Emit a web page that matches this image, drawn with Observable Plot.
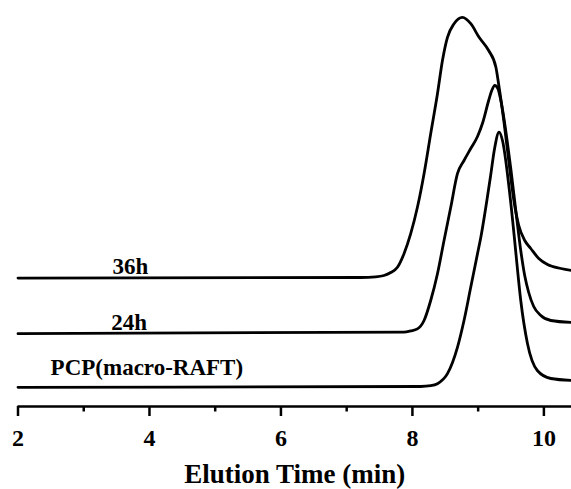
<!DOCTYPE html>
<html>
<head>
<meta charset="utf-8">
<script src="https://cdn.jsdelivr.net/npm/d3@7"></script>
<script src="https://cdn.jsdelivr.net/npm/@observablehq/plot@0.6"></script>
<style>
  html, body { margin: 0; padding: 0; background: white; }
</style>
</head>
<body>
<div id="chart"></div>
<script>
// Elution time (min) and offset detector signal (arbitrary units)
const t36 = [2, 7.213, 7.44, 7.568, 7.67, 7.772, 7.872, 7.974, 8.076, 8.177, 8.278, 8.381, 8.457, 8.533, 8.633, 8.761, 8.888, 9.014, 9.16, 9.27, 9.31, 9.39, 9.465, 9.543, 9.618, 9.709, 9.80, 9.922, 10.055, 10.26, 10.42];
const v36 = [32.1, 32.25, 32.4, 32.75, 33.5, 34.8, 38.2, 43.2, 49.8, 58.2, 68.2, 78.2, 86.5, 92.3, 95.7, 97.3, 95.7, 92.3, 89, 84.8, 80.75, 71.5, 61.5, 51.5, 45.25, 41.5, 39.5, 37, 35.5, 34.5, 34];

const t24 = [2, 7.872, 7.974, 8.076, 8.177, 8.278, 8.381, 8.481, 8.583, 8.685, 8.785, 8.887, 8.99, 9.07, 9.16, 9.207, 9.253, 9.30, 9.345, 9.50, 9.5725, 9.648, 9.708, 9.769, 9.845, 9.953, 10.106, 10.425];
const v24 = [18.2, 18.6, 18.9, 19.4, 21.5, 26.5, 33.2, 41.5, 49.8, 58.2, 61.5, 64.5, 67.5, 71, 76.5, 79, 80.25, 79.5, 76.5, 59, 49, 39, 32.75, 28.5, 25, 22.75, 21.5, 21];

const tPCP = [2, 8.126, 8.28, 8.381, 8.533, 8.685, 8.785, 8.887, 8.99, 9.04, 9.14, 9.19, 9.25, 9.318, 9.37, 9.47, 9.54, 9.57, 9.648, 9.75, 9.90, 10.106, 10.425];
const vPCP = [4.8, 5, 5.2, 5.7, 8.2, 14.8, 21.5, 29.8, 38.2, 42.25, 52.3, 57.75, 64.5, 68.6, 66.5, 54.75, 44, 39, 26.5, 15.75, 9, 7, 6.5];

const seriesNames = ["36h", "24h", "PCP(macro-RAFT)"];
const labelTime = [3.71, 3.69, 3.96];
const labelLevel = [35, 20.9, 9.6];

const majorTicks = [2, 4, 6, 8, 10];
const minorTicks = [3, 5, 7, 9];
const xTitle = "Elution Time (min)";

const rows = [];
[[t36, v36], [t24, v24], [tPCP, vPCP]].forEach(([ts, vs], k) => {
  ts.forEach((t, i) => rows.push({series: seriesNames[k], t, v: vs[i]}));
});
const labelRows = seriesNames.map((s, i) => ({text: s, t: labelTime[i], v: labelLevel[i]}));

const serif = "'Liberation Serif', 'Times New Roman', Times, serif";

const chart = Plot.plot({
  width: 571,
  height: 489,
  marginLeft: 17.5,
  marginRight: 0,
  marginTop: 6,
  marginBottom: 83,
  x: {domain: [2, 10.42]},
  y: {domain: [0, 100], axis: null},
  style: {fontFamily: serif, fontWeight: "bold", fontSize: "24px", background: "white", color: "black", overflow: "visible"},
  marks: [
    Plot.ruleY([0], {stroke: "black", strokeWidth: 2.5}),
    Plot.axisX(majorTicks, {tickSize: 10, tickPadding: 12, strokeWidth: 2.5, fontSize: 24, fontWeight: "bold", fontFamily: serif,
      label: null}),
    Plot.axisX(minorTicks, {tickSize: 5.5, strokeWidth: 2.5, tickFormat: () => "", label: null}),
    Plot.text([xTitle], {frameAnchor: "bottom", dy: 76, lineAnchor: "bottom", fontSize: 27, fontWeight: "bold", fontFamily: serif}),
    Plot.line(rows, {x: "t", y: "v", z: "series", curve: "monotone-x", stroke: "black", strokeWidth: 2.8}),
    Plot.text(labelRows, {x: "t", y: "v", text: "text", lineAnchor: "middle", fontSize: 23, fontWeight: "bold", fontFamily: serif})
  ]
});
document.getElementById("chart").appendChild(chart);
</script>
</body>
</html>
